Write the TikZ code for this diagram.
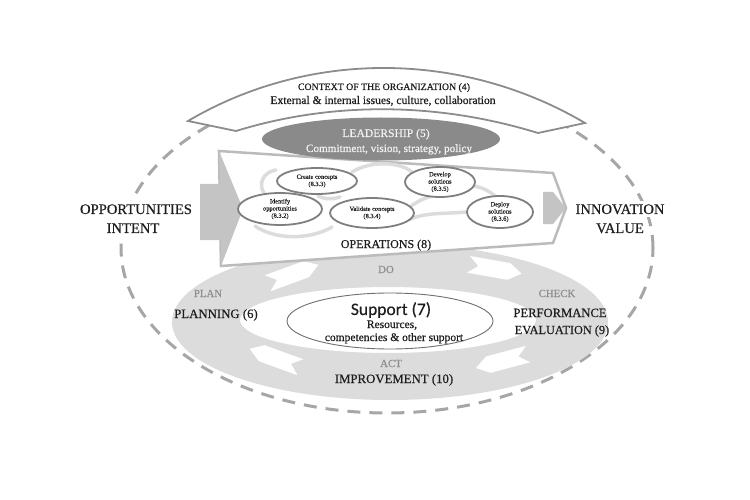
\documentclass[tikz,border=0pt]{standalone}
\usepackage{fontspec}
\setmainfont{Liberation Serif}[FakeBold=0.5]
\newfontfamily\carlitofont{Carlito}[FakeBold=0.3]
\usetikzlibrary{shapes.geometric}
\definecolor{dashgray}{HTML}{A6A6A6}
\definecolor{ringgray}{HTML}{DCDCDC}
\definecolor{bannergray}{HTML}{8C8C8C}
\definecolor{leadgray}{HTML}{8A8A8A}
\definecolor{opsgray}{HTML}{BBBBBB}
\definecolor{arrowgray}{HTML}{C4C4C4}
\definecolor{ellgray}{HTML}{7F7F7F}
\definecolor{swirlgray}{HTML}{DCDCDC}
\definecolor{pdcagray}{HTML}{8E8E8E}
\definecolor{textdark}{HTML}{1E1E1E}
\definecolor{supportline}{HTML}{6E6E6E}
\tikzset{
  ringchev/.pic={\fill[white] (-27,-8.5) -- (14,-8.5) -- (27,0) -- (14,8.5) -- (-27,8.5) -- (-17,0) -- cycle;}
}
\begin{document}
\begin{tikzpicture}[x=1pt,y=-1pt,
  txt/.style={inner sep=0pt, anchor=base, text=textdark},
  sidetxt/.style={txt, font=\fontsize{14.6}{16}\selectfont, fill=white, inner sep=3pt},
  ringtxt/.style={txt, font=\fontsize{12.8}{14}\selectfont},
  pdcatxt/.style={txt, text=pdcagray, font=\fontsize{10.8}{12}\selectfont},
  stepell/.style={ellipse, draw=ellgray, line width=1.8pt, fill=white, inner sep=0pt,
                  align=center, text=textdark, font=\fontsize{6.4}{7.2}\selectfont},
  swirl/.style={draw=swirlgray, line width=3.5pt, line cap=round},
  opsshape/.style={fill=white, draw=opsgray, line width=2.5pt, line join=miter},
  grayarrow/.style={fill=arrowgray},
  banner/.style={fill=white, draw=bannergray, line width=1.8pt, line join=miter},
  dashring/.style={draw=dashgray, line width=3pt, dash pattern=on 13pt off 9pt}
]
\useasboundingbox (0,0) rectangle (750,500);

% outer dashed ellipse
\draw[dashring] (387,248) ellipse [x radius=266pt, y radius=165pt];

% PDCA ring
\fill[ringgray, even odd rule] (390,322) ellipse [x radius=218pt, y radius=78pt]
                               (388,320) ellipse [x radius=148pt, y radius=33pt];
\pic[rotate=20] at (293,274) {ringchev};
\pic[rotate=-10] at (495,269) {ringchev};
\pic[rotate=195] at (502,361) {ringchev};
\pic[rotate=160] at (275,358) {ringchev};

% operations shape
\draw[opsshape] (219,151) -- (553,173) -- (566,208) -- (553,243) -- (221,266) -- cycle;

% swirl strokes inside operations
\draw[swirl] (276,170) .. controls (263,172) and (258,184) .. (264,193);
\draw[swirl] (352,172) .. controls (372,160) and (400,162) .. (412,172);
\draw[swirl] (255,226) .. controls (275,240) and (310,240) .. (332,227);
\draw[swirl] (408,220) .. controls (425,212) and (445,214) .. (466,212);
\draw[swirl] (410,207) .. controls (418,201) and (424,198) .. (432,196);
\draw[swirl] (474,186) .. controls (484,188) and (491,192) .. (496,197);
\draw[swirl] (318,196) .. controls (326,200) and (334,199) .. (340,197);

% grey input / output arrows
\fill[grayarrow] (200,184) -- (220,184) -- (219,151) -- (243,209) -- (221,266) -- (221,240) -- (200,240) -- cycle;
\fill[grayarrow] (543,192) -- (553,192) -- (566,208) -- (553,224) -- (543,224) -- cycle;

% process ellipses
\node[stepell, minimum width=84pt, minimum height=32pt] (identify) at (280,209) {Identify\\opportunities\\(8.3.2)};
\node[stepell, minimum width=80pt, minimum height=26pt] (create) at (317,181) {Create concepts\\(8.3.3)};
\node[stepell, minimum width=84pt, minimum height=30pt] (validate) at (372,213) {Validate concepts\\(8.3.4)};
\node[stepell, minimum width=70pt, minimum height=30pt] (develop) at (440,182) {Develop\\solutions\\(8.3.5)};
\node[stepell, minimum width=66pt, minimum height=32pt] (deploy) at (500,212) {Deploy\\solutions\\(8.3.6)};

% context banner
\draw[banner] (188,121) .. controls (310,49) and (463,51) .. (585,123) -- (538,133)
              .. controls (439.5,102.7) and (334.5,100.7) .. (236,131) -- cycle;

% leadership
\node[ellipse, fill=leadgray, minimum width=238pt, minimum height=43pt, inner sep=0pt] (lead) at (381,139) {};

% support ellipse
\node[ellipse, draw=supportline, line width=0.9pt, minimum width=206pt, minimum height=56pt, inner sep=0pt] (support) at (390,321) {};

% texts
\node[txt, font=\fontsize{9.8}{11}\selectfont] (ctxtitle) at (384,90) {CONTEXT OF THE ORGANIZATION (4)};
\node[txt, font=\fontsize{11.6}{13}\selectfont] (ctxsub) at (383,104) {External \& internal issues, culture, collaboration};
\node[txt, text=white!95!black, font=\fontsize{11.6}{13}\selectfont] (leadtitle) at (386,137) {LEADERSHIP (5)};
\node[txt, text=white!95!black, font=\fontsize{11.2}{13}\selectfont] (leadsub) at (389,152) {Commitment, vision, strategy, policy};
\node[txt, font=\fontsize{12}{13}\selectfont] (opstitle) at (386,248) {OPERATIONS (8)};

\node[sidetxt] (opp) at (136,214) {OPPORTUNITIES};
\node[sidetxt] (intent) at (133,233) {INTENT};
\node[sidetxt] (innov) at (620,214) {INNOVATION};
\node[sidetxt] (value) at (620,233) {VALUE};

\node[pdcatxt] (do) at (386,273) {DO};
\node[pdcatxt] (plan) at (208,297) {PLAN};
\node[pdcatxt] (check) at (557,297) {CHECK};
\node[pdcatxt] (act) at (391,367) {ACT};

\node[ringtxt] (planning) at (216,318) {PLANNING (6)};
\node[ringtxt, font=\fontsize{12.6}{14}\selectfont] (perf) at (560,317) {PERFORMANCE};
\node[ringtxt, font=\fontsize{12.3}{14}\selectfont] (eval) at (562,334) {EVALUATION (9)};
\node[ringtxt] (improve) at (394,383) {IMPROVEMENT (10)};

\node[txt, font=\carlitofont\fontsize{17.5}{19}\selectfont] (suptitle) at (391,315) {Support (7)};
\node[txt, font=\fontsize{11.5}{13}\selectfont] (supres) at (392,328) {Resources,};
\node[txt, font=\fontsize{11.5}{13}\selectfont] (supcomp) at (394,341) {competencies \& other support};
\end{tikzpicture}
\end{document}
